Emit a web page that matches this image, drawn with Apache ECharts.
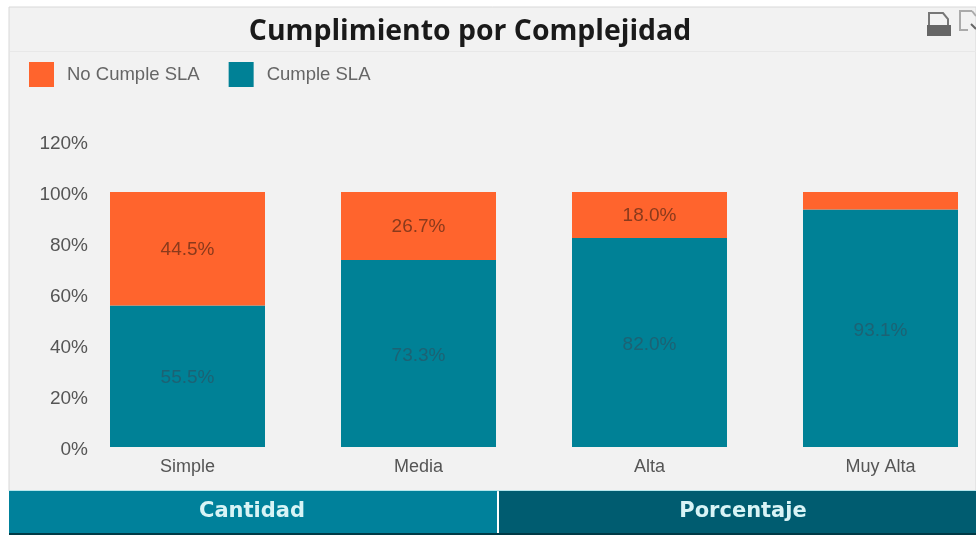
<!DOCTYPE html>
<html>
<head>
<meta charset="utf-8">
<style>
html,body{margin:0;padding:0;background:#fff;overflow:hidden}
#chart{width:976px;height:535px}
</style>
<script src="https://cdn.jsdelivr.net/npm/echarts@6/dist/echarts.min.js"></script>
</head>
<body>
<div id="chart"></div>
<script>
const categories = ['Simple', 'Media', 'Alta', 'Muy Alta'];
const cumple = [55.5, 73.3, 82.0, 93.1];
const noCumple = [44.5, 26.7, 18.0, 6.9];
const hiddenLabelCategories = ['Muy Alta'];
const tabs = ['Cantidad', 'Porcentaje'];

const ORANGE = '#ff642d';
const TEAL = '#008196';

function barData(values, name) {
  return values.map((v, i) => ({
    value: v,
    label: { show: !(name === 'No Cumple SLA' && hiddenLabelCategories.includes(categories[i])) }
  }));
}

const chart = echarts.init(document.getElementById('chart'), null, { renderer: 'canvas' });

chart.setOption({
  animation: false,
  backgroundColor: '#ffffff',
  title: {
    text: 'Cumplimiento por Complejidad',
    left: 465, top: 13, textAlign: 'center',
    textStyle: { fontFamily: 'Open Sans', fontWeight: 'bold', fontSize: 28.4, color: '#1a1a1a' }
  },
  legend: {
    left: 24, top: 57, itemWidth: 25, itemHeight: 25, itemGap: 29,
    icon: 'rect',
    data: ['No Cumple SLA', 'Cumple SLA'],
    textStyle: { fontFamily: 'Liberation Sans', fontSize: 18.5, color: '#666', padding: [2, 0, 0, 8] }
  },
  // the last band runs past the right edge of the panel
  grid: { left: 72, top: 141, width: 924, height: 306, containLabel: false, outerBoundsMode: 'none' },
  xAxis: {
    type: 'category', data: categories,
    axisLine: { show: false }, axisTick: { show: false },
    axisLabel: { fontFamily: 'Liberation Sans', fontSize: 18, color: '#555', margin: 11 }
  },
  yAxis: {
    type: 'value', min: 0, max: 120, interval: 20,
    splitLine: { show: false }, axisLine: { show: false }, axisTick: { show: false },
    axisLabel: {
      formatter: '{tick|{value}%}',
      margin: -16, align: 'right',
      rich: { tick: { fontFamily: 'Liberation Sans', fontSize: 19, color: '#555', padding: [6, 0, 0, 0] } }
    }
  },
  series: [
    {
      name: 'Cumple SLA', type: 'bar', stack: 'sla', barWidth: 155,
      itemStyle: { color: TEAL }, data: barData(cumple, 'Cumple SLA'),
      label: { position: 'inside', offset: [0, 2], formatter: p => p.value.toFixed(1) + '%', fontFamily: 'Liberation Sans', fontSize: 19, color: '#1c6274' }
    },
    {
      name: 'No Cumple SLA', type: 'bar', stack: 'sla', barWidth: 155,
      itemStyle: { color: ORANGE }, data: barData(noCumple, 'No Cumple SLA'),
      label: { position: 'inside', offset: [0, 1], formatter: p => p.value.toFixed(1) + '%', fontFamily: 'Liberation Sans', fontSize: 19, color: '#8a3a1c' }
    }
  ],
  graphic: [
    // panel background, header rule and bottom tab strip
    { type: 'rect', z: -10, silent: true, shape: { x: 9, y: 7, width: 967, height: 484 }, style: { fill: '#f2f2f2', stroke: '#d8d8d8', lineWidth: 1 } },
    { type: 'rect', z: -9, silent: true, shape: { x: 10, y: 51, width: 966, height: 1 }, style: { fill: '#e8e8e8' } },
    { type: 'rect', z: 1, silent: true, shape: { x: 9, y: 490, width: 967, height: 1 }, style: { fill: '#b5e6ec' } },
    { type: 'rect', z: 1, silent: true, shape: { x: 9, y: 491, width: 488, height: 44 }, style: { fill: '#00819b' } },
    { type: 'rect', z: 1, silent: true, shape: { x: 499, y: 491, width: 477, height: 44 }, style: { fill: '#005c70' } },
    { type: 'rect', z: 1, silent: true, shape: { x: 9, y: 533, width: 967, height: 2 }, style: { fill: '#003a46' } },
    { type: 'text', z: 2, silent: true, style: { x: 252, y: 512, text: tabs[0], align: 'center', verticalAlign: 'middle', font: 'bold 21px "DejaVu Sans"', fill: '#d8f4f6' } },
    { type: 'text', z: 2, silent: true, style: { x: 743, y: 512, text: tabs[1], align: 'center', verticalAlign: 'middle', font: 'bold 21px "DejaVu Sans"', fill: '#d8f4f6' } },
    // print and export icons in the header
    { type: 'polygon', z: 2, silent: true, shape: { points: [[929, 13], [943, 13], [948, 19], [948, 26], [929, 26]] }, style: { fill: 'none', stroke: '#777', lineWidth: 2 } },
    { type: 'rect', z: 2, silent: true, shape: { x: 927, y: 25, width: 24, height: 11 }, style: { fill: '#666' } },
    { type: 'polyline', z: 2, silent: true, shape: { points: [[972, 11], [960, 11], [960, 30], [968, 30]] }, style: { fill: 'none', stroke: '#aaa', lineWidth: 2 } },
    { type: 'polyline', z: 2, silent: true, shape: { points: [[972, 11], [976, 16]] }, style: { fill: 'none', stroke: '#aaa', lineWidth: 2 } },
    { type: 'polyline', z: 2, silent: true, shape: { points: [[971, 24], [976, 29]] }, style: { fill: 'none', stroke: '#666', lineWidth: 2 } }
  ]
});
</script>
</body>
</html>
